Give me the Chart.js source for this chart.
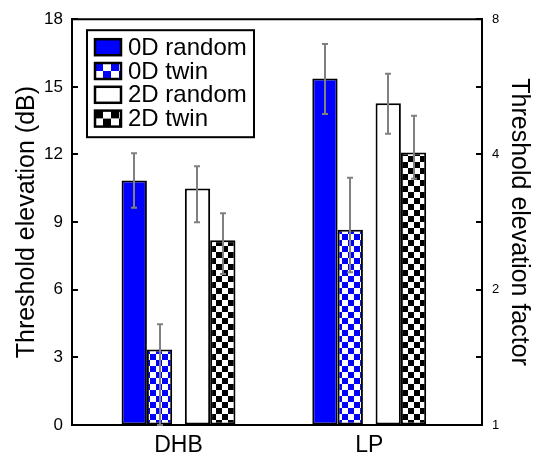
<!DOCTYPE html>
<html><head><meta charset="utf-8">
<script src="https://cdn.jsdelivr.net/npm/chart.js@4.4.0/dist/chart.umd.min.js"></script>
<style>html,body{margin:0;padding:0;background:#fff}#wrap{width:537px;height:460px}</style>
</head><body><div id="wrap"><canvas id="c" width="537" height="460"></canvas></div>
<script>
// ---- data ----
const categories = ['DHB', 'LP'];
const seriesNames = ['0D random', '0D twin', '2D random', '2D twin'];
const od_random    = [10.85, 15.37];
const od_random_lo = [9.64, 13.80];
const od_random_hi = [12.05, 16.90];
const od_twin      = [3.35, 8.66];
const od_twin_lo   = [0.00, 6.77];
const od_twin_hi   = [4.47, 10.97];
const td_random    = [10.49, 14.27];
const td_random_lo = [8.99, 12.92];
const td_random_hi = [11.48, 15.58];
const td_twin      = [8.20, 12.09];
const td_twin_lo   = [6.70, 10.92];
const td_twin_hi   = [9.39, 13.72];
const dbTicks = [0, 3, 6, 9, 12, 15, 18];
const factorTicks = [1, 2, 4, 8];

// ---- styling ----
const FONT = "'Liberation Sans', Arial, Helvetica, sans-serif";
Chart.defaults.font.family = FONT;
Chart.defaults.color = '#000';
const BLUE = '#0000ff';
const canvas = document.getElementById('c');
const ctx0 = canvas.getContext('2d');
function checker(c1, c2, cell) {
  const cv = document.createElement('canvas');
  cv.width = cv.height = cell * 2;
  const x = cv.getContext('2d');
  x.fillStyle = c2; x.fillRect(0, 0, cell * 2, cell * 2);
  x.fillStyle = c1; x.fillRect(0, 0, cell, cell); x.fillRect(cell, cell, cell, cell);
  return ctx0.createPattern(cv, 'repeat');
}
const blueChecker = checker(BLUE, '#ffffff', 6);
const blackChecker = checker('#000000', '#ffffff', 6);

const pts = arr => categories.map((c, i) => ({x: i, y: arr[i]}));
const barBase = {borderColor: '#000', borderWidth: 2, borderSkipped: false,
  categoryPercentage: 0.5307, barPercentage: 2};
// empty slot that only reserves room between bars of a group
const spacer = () => ({label: '', data: categories.map((c, i) => ({x: i, y: null})), spacer: true,
  categoryPercentage: 0.5307, barPercentage: 2});

const datasets = [
  Object.assign({label: seriesNames[0], data: pts(od_random), backgroundColor: BLUE,
    errLo: od_random_lo, errHi: od_random_hi, legendFill: 'solid', legendColor: BLUE}, barBase),
  spacer(),
  Object.assign({label: seriesNames[1], data: pts(od_twin), backgroundColor: blueChecker,
    errLo: od_twin_lo, errHi: od_twin_hi, legendFill: 'check', legendColor: BLUE}, barBase),
  spacer(), spacer(),
  Object.assign({label: seriesNames[2], data: pts(td_random), backgroundColor: '#ffffff',
    errLo: td_random_lo, errHi: td_random_hi, legendFill: 'solid', legendColor: '#ffffff'}, barBase),
  spacer(),
  Object.assign({label: seriesNames[3], data: pts(td_twin), backgroundColor: blackChecker,
    errLo: td_twin_lo, errHi: td_twin_hi, legendFill: 'check', legendColor: '#000000'}, barBase)
];

// axis range so that group centres land where the reference puts them
const XMIN = -0.5585, XMAX = 1.5912;

const errPlugin = {
  id: 'errbars',
  afterDatasetsDraw(chart) {
    const ctx = chart.ctx, ys = chart.scales.y;
    chart.data.datasets.forEach((ds, i) => {
      if (!ds.errLo) return;
      const meta = chart.getDatasetMeta(i);
      meta.data.forEach((bar, j) => {
        const x = Math.round(bar.x);
        const yl = ys.getPixelForValue(ds.errLo[j]);
        const yh = ys.getPixelForValue(ds.errHi[j]);
        ctx.save();
        ctx.strokeStyle = '#808080'; ctx.lineWidth = 2;
        ctx.beginPath();
        ctx.moveTo(x, yl); ctx.lineTo(x, yh);
        ctx.moveTo(x - 3, yl); ctx.lineTo(x + 3, yl);
        ctx.moveTo(x - 3, yh); ctx.lineTo(x + 3, yh);
        ctx.stroke();
        ctx.restore();
      });
    });
  }
};

const framePlugin = {
  id: 'frame',
  afterDraw(chart) {
    const ctx = chart.ctx, a = chart.chartArea;
    ctx.save();
    ctx.strokeStyle = '#000'; ctx.lineWidth = 2;
    ctx.beginPath(); ctx.moveTo(a.left - 1, a.top); ctx.lineTo(a.right + 1, a.top); ctx.stroke();
    const yl = chart.scales.y, yr = chart.scales.y2;
    ctx.beginPath();
    yl.ticks.forEach(t => { const y = Math.round(yl.getPixelForValue(t.value)); ctx.moveTo(a.left, y); ctx.lineTo(a.left + 6, y); });
    yr.ticks.forEach(t => { const y = Math.round(yr.getPixelForValue(t.value)); ctx.moveTo(a.right, y); ctx.lineTo(a.right - 6, y); });
    ctx.stroke();

    // legend
    const lx = a.left + 15, ly = a.top + 11, lw = 167, lh = 107;
    ctx.fillStyle = '#fff'; ctx.fillRect(lx, ly, lw, lh);
    ctx.lineWidth = 2; ctx.strokeRect(lx, ly, lw, lh);
    ctx.font = '24px ' + FONT; ctx.textBaseline = 'middle'; ctx.textAlign = 'left';
    chart.data.datasets.filter(ds => !ds.spacer).forEach((ds, i) => {
      const sx = lx + 8, sy = ly + 9 + i * 23.8, sw = 26, sh = 16;
      if (ds.legendFill === 'check') {
        const cell = 8;
        for (let r = 0; r < 2; r++) for (let c = 0; c < 4; c++) {
          ctx.fillStyle = ((r + c) % 2 === 0) ? ds.legendColor : '#fff';
          const cx = sx + c * cell, cy = sy + r * cell;
          ctx.fillRect(cx, cy, Math.min(cell, sx + sw - cx), Math.min(cell, sy + sh - cy));
        }
      } else {
        ctx.fillStyle = ds.legendColor; ctx.fillRect(sx, sy, sw, sh);
      }
      ctx.strokeStyle = '#000'; ctx.lineWidth = 2.5; ctx.strokeRect(sx, sy, sw, sh);
      ctx.fillStyle = '#000';
      ctx.fillText(ds.label, sx + sw + 7, sy + sh / 2 + 1);
    });
    ctx.restore();
  }
};

new Chart(canvas, {
  type: 'bar',
  data: {datasets},
  options: {
    responsive: false, animation: false, devicePixelRatio: 1, events: [],
    layout: {padding: {top: 13, left: 0, right: 0, bottom: 0}},
    plugins: {legend: {display: false}, tooltip: {enabled: false}},
    scales: {
      x: {
        type: 'linear', position: 'bottom', bounds: 'data', offset: false, grace: 0,
        min: XMIN, max: XMAX,
        afterBuildTicks: s => { s.ticks = categories.map((c, i) => ({value: i})); },
        ticks: {autoSkip: false, maxRotation: 0, padding: 7, font: {size: 23}, color: '#000',
          callback: v => categories[Math.round(v)] ?? ''},
        grid: {display: true, drawOnChartArea: false, drawTicks: false, offset: false},
        border: {display: true, color: '#000', width: 2},
        afterFit: s => { s.height = 35; }
      },
      y: {
        type: 'linear', position: 'left', min: 0, max: 18,
        afterBuildTicks: s => { s.ticks = dbTicks.map(v => ({value: v})); },
        ticks: {font: {size: 17}, color: '#000', padding: 9},
        grid: {drawOnChartArea: false, drawTicks: false},
        border: {display: true, color: '#000', width: 2},
        title: {display: true, text: 'Threshold elevation (dB)', color: '#000',
          font: {size: 25, lineHeight: 1.2}, padding: {top: 12, bottom: 0}},
        afterFit: s => { s.width = 72; }
      },
      y2: {
        type: 'linear', position: 'right', min: 0, max: 18,
        afterBuildTicks: s => { s.ticks = dbTicks.map(v => ({value: v})); },
        ticks: {font: {size: 13}, color: '#000', padding: 10,
          callback: v => { const f = factorTicks.find(f => Math.abs(20 * Math.log10(f) - v) < 0.5); return f === undefined ? '' : String(f); }},
        grid: {drawOnChartArea: false, drawTicks: false},
        border: {display: true, color: '#000', width: 2},
        title: {display: true, text: 'Threshold elevation factor', color: '#000',
          font: {size: 25, lineHeight: 1.2}, padding: {top: 3, bottom: 0}},
        afterFit: s => { s.width = 55; }
      }
    }
  },
  plugins: [errPlugin, framePlugin]
});
</script></body></html>
